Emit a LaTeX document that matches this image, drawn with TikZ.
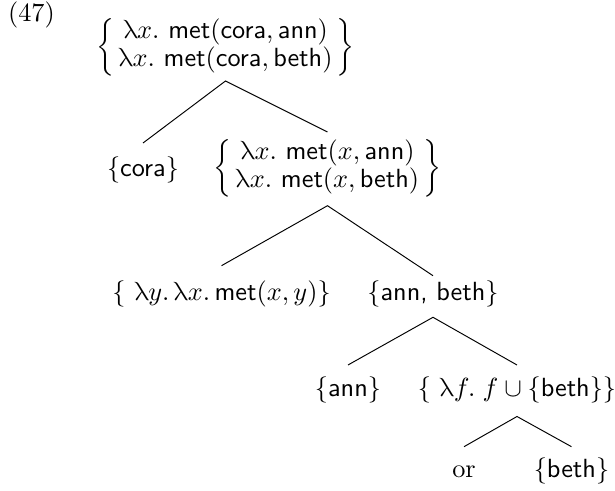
\documentclass[tikz,border=0pt]{standalone}
\usepackage{fontspec}
\newfontfamily\grk{Latin Modern Math}
\newcommand\lam{\mbox{\grk λ}}
\newcommand\sfx[1]{\textsf{#1}}
\renewcommand\arraystretch{0.83}
\begin{document}
\begin{tikzpicture}[x=0.41667pt,y=-0.41667pt,
  font=\fontsize{10.95}{13.6}\selectfont,
  lbl/.style={inner sep=0pt,outer sep=0pt},
  branch/.style={draw=black,line width=0.4pt}]
\useasboundingbox (0,0) rectangle (615,491);
\node[lbl,anchor=base] (num) at (31.5,22) {(47)};
\node[lbl] (root) at (225.5,47) {$\left\{\begin{array}{@{\,}c@{\,}}\lam x.\ \sfx{met}(\sfx{cora},\sfx{ann})\\ \lam x.\ \sfx{met}(\sfx{cora},\sfx{beth})\end{array}\right\}$};
\node[lbl,anchor=base] (cora) at (143,177) {$\{\sfx{cora}\}$};
\node[lbl] (mid) at (327.5,168) {$\left\{\begin{array}{@{\,}c@{\,}}\lam x.\ \sfx{met}(x,\sfx{ann})\\ \lam x.\ \sfx{met}(x,\sfx{beth})\end{array}\right\}$};
\node[lbl,anchor=base] (lxy) at (221.5,301) {$\{\ \lam y.\,\lam x.\,\sfx{met}(x,y)\}$};
\node[lbl,anchor=base] (annbeth) at (433,301) {$\{$\sfx{ann, beth}$\}$};
\node[lbl,anchor=base] (ann) at (348,396.5) {$\{\sfx{ann}\}$};
\node[lbl,anchor=base] (lf) at (517,396.5) {$\{\ \lam f.\;f\cup\{\sfx{beth}\}\}$};
\node[lbl,anchor=base] (or) at (464,478) {or};
\node[lbl,anchor=base] (beth) at (571.5,478) {$\{\sfx{beth}\}$};
\draw[branch] (cora |- 0,143) -- (root |- 0,81) -- (mid |- 0,132);
\draw[branch] (lxy |- 0,265.7) -- (mid |- 0,205.7) -- (annbeth |- 0,275.7);
\draw[branch] (ann |- 0,365) -- (annbeth |- 0,317.3) -- (lf |- 0,365);
\draw[branch] (or |- 0,446.7) -- (lf |- 0,416.5) -- (beth |- 0,446.7);
\end{tikzpicture}
\end{document}
